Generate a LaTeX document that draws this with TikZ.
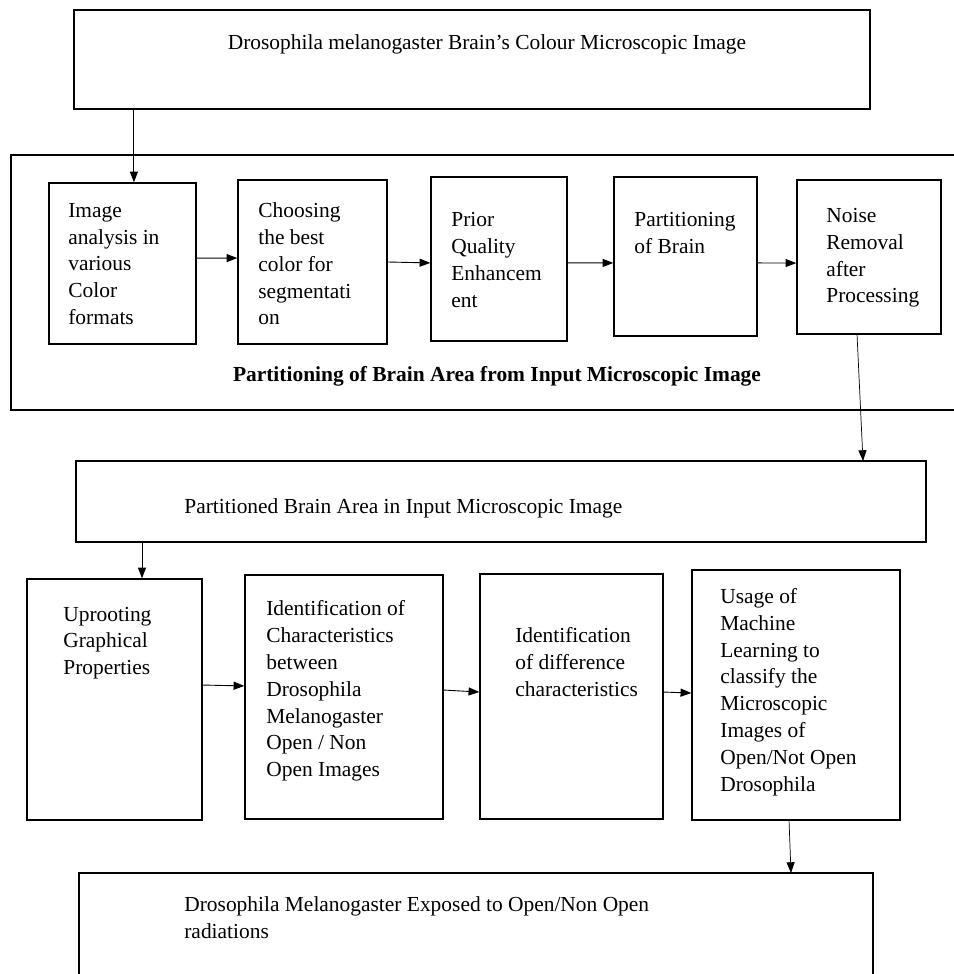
\documentclass[tikz,border=0pt]{standalone}
\usepackage{fontspec}
\setmainfont{Liberation Serif}
\usetikzlibrary{arrows.meta,fit}
\tikzset{
  blk/.style={draw, line width=0.8pt, inner sep=0pt},
  txt/.style={anchor=west, align=left, inner sep=0pt, font=\fontsize{12}{15}\selectfont},
  arr/.style={-{Triangle[length=6pt,width=4.5pt]}, line width=0.5pt},
}
\begin{document}
\begin{tikzpicture}[x=0.56pt, y=-0.56pt]
	\useasboundingbox (0,0) rectangle (954,974);

	%input image
	\node[blk, fit={(74,10) (870,109)}] (img) {};
	\node[txt, anchor=center] (imgtxt) at (487,44) {Drosophila melanogaster Brain's Colour Microscopic Image};

	%partitioning stage
	\node[blk, fit={(11,155) (980,410)}] (seg) {};
	\node[blk, fit={(49,183) (196,344)}] (b1) {};
	\node[blk, fit={(238,180) (387,344)}] (b2) {};
	\node[blk, fit={(431,177) (567,341)}] (b3) {};
	\node[blk, fit={(614,177) (757,336)}] (b4) {};
	\node[blk, fit={(797,180) (941,334)}] (b5) {};

	\node[txt] (t1) at (68,264) {Image\\analysis in\\various\\Color\\formats};
	\node[txt] (t2) at (258,264) {Choosing\\the best\\color for\\segmentati\\on};
	\node[txt] (t3) at (451,260) {Prior\\Quality\\Enhancem\\ent};
	\node[txt] (t4) at (634,233) {Partitioning\\of Brain};
	\node[txt] (t5) at (826,258) {Noise\\Removal\\after\\Processing};
	\node[txt, anchor=center, font=\bfseries\fontsize{12}{15}\selectfont] (segcap) at (497,376) {Partitioning of Brain Area from Input Microscopic Image};

	\coordinate (b1in) at ([xshift=6.4pt]b1.north);
	\draw[arr] (img.south -| b1in) -- (b1in);
	\draw[arr] ([yshift=3pt]b1.east) -- ([yshift=2.2pt]b2.west);
	\draw[arr] (b2.east) -- ([yshift=-2.2pt]b3.west);
	\draw[arr] ([yshift=-2.2pt]b3.east) -- ([yshift=-3.6pt]b4.west);
	\draw[arr] ([yshift=-3.6pt]b4.east) -- ([yshift=-3.4pt]b5.west);

	%partitioned area
	\node[blk, fit={(76,461) (926,542)}] (part) {};
	\node[txt] (parttxt) at (184,508) {Partitioned Brain Area in Input Microscopic Image};
	\coordinate (b5out) at ([xshift=-6.7pt]b5.south);
	\coordinate (partin) at (863,461);
	\draw[arr, line width=0.4pt] (b5out) -- (partin);

	%feature stage
	\node[blk, fit={(27,579) (202,820)}] (c1) {};
	\node[blk, fit={(245,575) (443,819)}] (c2) {};
	\node[blk, fit={(480,574) (663,819)}] (c3) {};
	\node[blk, fit={(692,570) (900,820)}] (c4) {};

	\node[txt] (s1) at (63,643) {Uprooting\\Graphical\\Properties};
	\node[txt] (s2) at (266,691) {Identification of\\Characteristics\\between\\Drosophila\\Melanogaster\\Open / Non\\Open Images};
	\node[txt] (s3) at (515,662) {Identification\\of difference\\characteristics};
	\node[txt] (s4) at (720,692) {Usage of\\Machine\\Learning to\\classify the\\Microscopic\\Images of\\Open/Not Open\\Drosophila};

	\coordinate (c1in) at ([xshift=15.4pt]c1.north);
	\draw[arr] (part.south -| c1in) -- (c1in);
	\draw[arr] ([yshift=8.1pt]c1.east) -- ([yshift=6.2pt]c2.west);
	\draw[arr] ([yshift=3.9pt]c2.east) -- ([yshift=2.5pt]c3.west);
	\draw[arr] ([yshift=2.5pt]c3.east) -- ([yshift=1.1pt]c4.west);

	%result
	\node[blk, fit={(79,873) (873,1000)}] (res) {};
	\node[txt] (restxt) at (184,918) {Drosophila Melanogaster Exposed to Open/Non Open\\radiations};
	\coordinate (c4out) at ([xshift=-3.9pt]c4.south);
	\coordinate (resin) at (791,873);
	\draw[arr, line width=0.4pt] (c4out) -- (resin);
\end{tikzpicture}
\end{document}
